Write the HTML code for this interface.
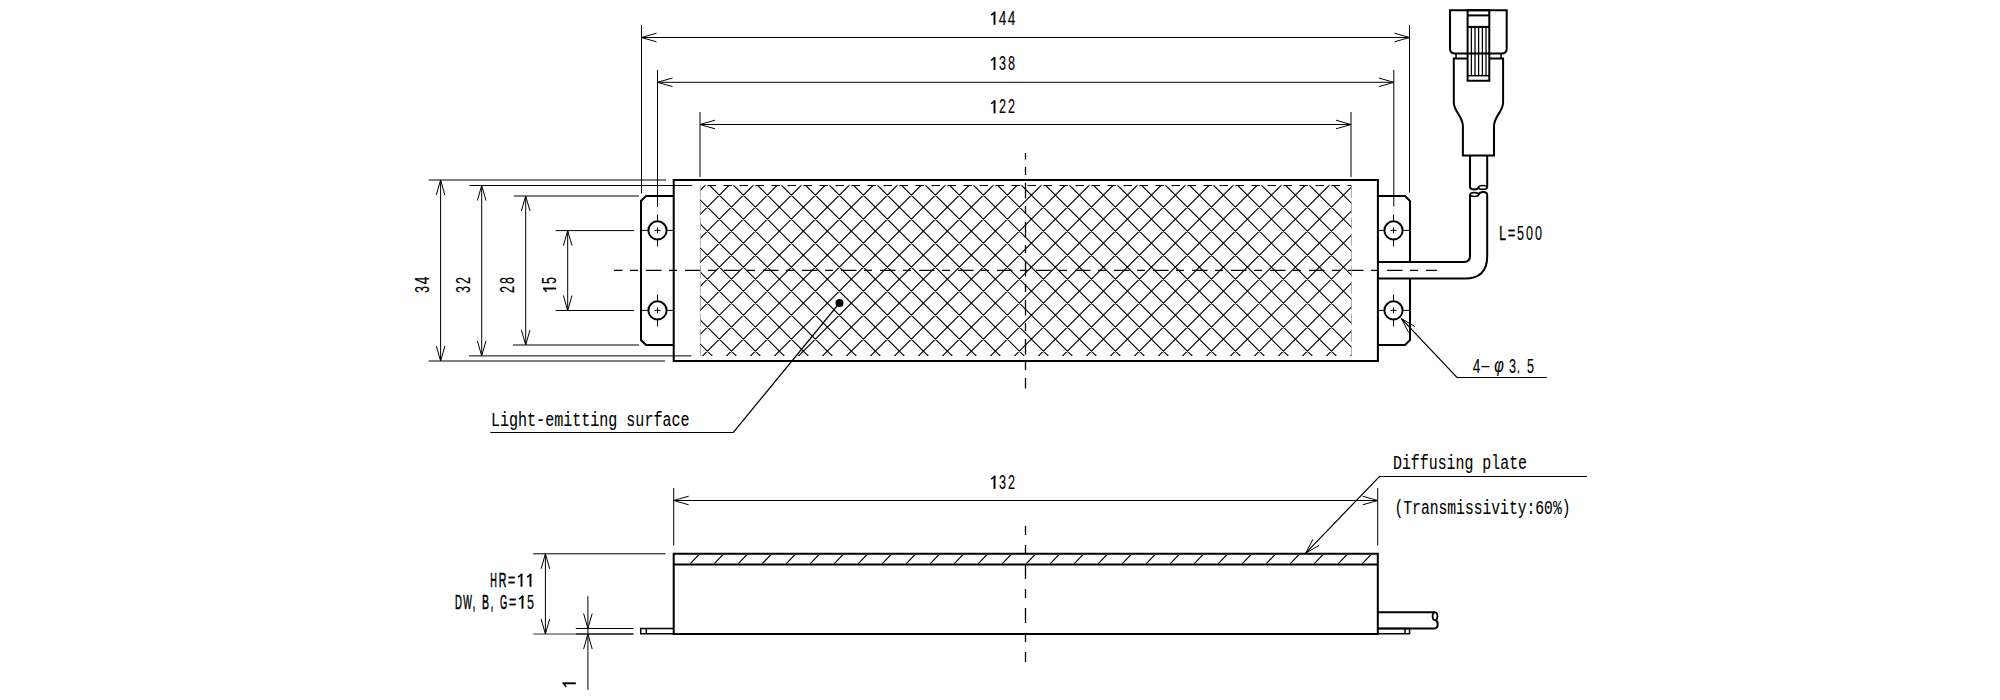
<!DOCTYPE html>
<html><head><meta charset="utf-8"><style>
html,body{margin:0;padding:0;background:#fff;width:2000px;height:700px;overflow:hidden}
svg{display:block}
</style></head><body>
<svg width="2000" height="700" viewBox="0 0 2000 700" style="font-family:'Liberation Sans',sans-serif" stroke-linecap="butt">
<rect width="2000" height="700" fill="#fff"/>
<line x1="641.50" y1="37.50" x2="1409.50" y2="37.50" stroke="#000" stroke-width="1.0" />
<path d="M656.50,33.20 L641.50,37.50 L656.50,41.80" stroke="#000" stroke-width="1" fill="none" />
<path d="M1394.50,41.80 L1409.50,37.50 L1394.50,33.20" stroke="#000" stroke-width="1" fill="none" />
<line x1="657.50" y1="82.30" x2="1393.80" y2="82.30" stroke="#000" stroke-width="1.0" />
<path d="M672.50,78.00 L657.50,82.30 L672.50,86.60" stroke="#000" stroke-width="1" fill="none" />
<path d="M1378.80,86.60 L1393.80,82.30 L1378.80,78.00" stroke="#000" stroke-width="1" fill="none" />
<line x1="700.00" y1="124.50" x2="1351.00" y2="124.50" stroke="#000" stroke-width="1.0" />
<path d="M715.00,120.20 L700.00,124.50 L715.00,128.80" stroke="#000" stroke-width="1" fill="none" />
<path d="M1336.00,128.80 L1351.00,124.50 L1336.00,120.20" stroke="#000" stroke-width="1" fill="none" />
<line x1="641.50" y1="25.00" x2="641.50" y2="193.50" stroke="#000" stroke-width="1.0" />
<line x1="1409.50" y1="25.00" x2="1409.50" y2="192.50" stroke="#000" stroke-width="1.0" />
<line x1="657.50" y1="70.00" x2="657.50" y2="207.00" stroke="#000" stroke-width="1.0" />
<line x1="1393.80" y1="70.00" x2="1393.80" y2="206.50" stroke="#000" stroke-width="1.0" />
<line x1="700.00" y1="112.00" x2="700.00" y2="177.00" stroke="#000" stroke-width="1.0" />
<line x1="1351.00" y1="112.00" x2="1351.00" y2="177.00" stroke="#000" stroke-width="1.0" />
<g transform="translate(989 24.8)" font-family="Liberation Sans" font-size="19.5" stroke="#000" stroke-width="0.6"><path d="M5.50,0V-13.05" fill="none" stroke="#000" stroke-width="1.9"/><path d="M6.10,-12.75L2.10,-9.65" fill="none" stroke="#000" stroke-width="1.5"/><text transform="translate(9.70 0) scale(0.702 1)" x="0" stroke-width="0.15" y="0">4</text><text transform="translate(18.70 0) scale(0.702 1)" x="0" stroke-width="0.15" y="0">4</text></g>
<g transform="translate(989 70)" font-family="Liberation Sans" font-size="19.5" stroke="#000" stroke-width="0.6"><path d="M5.50,0V-13.05" fill="none" stroke="#000" stroke-width="1.9"/><path d="M6.10,-12.75L2.10,-9.65" fill="none" stroke="#000" stroke-width="1.5"/><text transform="translate(10.00 0) scale(0.647 1)" x="0" stroke-width="0.15" y="0">3</text><text transform="translate(19.00 0) scale(0.647 1)" x="0" stroke-width="0.15" y="0">8</text></g>
<g transform="translate(989 113.4)" font-family="Liberation Sans" font-size="19.5" stroke="#000" stroke-width="0.6"><path d="M5.50,0V-13.05" fill="none" stroke="#000" stroke-width="1.9"/><path d="M6.10,-12.75L2.10,-9.65" fill="none" stroke="#000" stroke-width="1.5"/><text transform="translate(10.00 0) scale(0.647 1)" x="0" stroke-width="0.15" y="0">2</text><text transform="translate(19.00 0) scale(0.647 1)" x="0" stroke-width="0.15" y="0">2</text></g>
<line x1="1025.50" y1="153.00" x2="1025.50" y2="388.50" stroke="#000" stroke-width="1.3" stroke-dasharray="15.5 7.5 8 8" stroke-dashoffset="9"/>
<line x1="614.00" y1="270.40" x2="1437.00" y2="270.40" stroke="#000" stroke-width="1.3" stroke-dasharray="15.5 7.5 8 8" stroke-dashoffset="7"/>
<clipPath id="hc"><rect x="700" y="185.3" width="651.5" height="170.7"/></clipPath>
<path d="M667.20,175.30L476.50,366.00M691.20,175.30L500.50,366.00M715.20,175.30L524.50,366.00M739.20,175.30L548.50,366.00M763.20,175.30L572.50,366.00M787.20,175.30L596.50,366.00M811.20,175.30L620.50,366.00M835.20,175.30L644.50,366.00M859.20,175.30L668.50,366.00M883.20,175.30L692.50,366.00M907.20,175.30L716.50,366.00M931.20,175.30L740.50,366.00M955.20,175.30L764.50,366.00M979.20,175.30L788.50,366.00M1003.20,175.30L812.50,366.00M1027.20,175.30L836.50,366.00M1051.20,175.30L860.50,366.00M1075.20,175.30L884.50,366.00M1099.20,175.30L908.50,366.00M1123.20,175.30L932.50,366.00M1147.20,175.30L956.50,366.00M1171.20,175.30L980.50,366.00M1195.20,175.30L1004.50,366.00M1219.20,175.30L1028.50,366.00M1243.20,175.30L1052.50,366.00M1267.20,175.30L1076.50,366.00M1291.20,175.30L1100.50,366.00M1315.20,175.30L1124.50,366.00M1339.20,175.30L1148.50,366.00M1363.20,175.30L1172.50,366.00M1387.20,175.30L1196.50,366.00M1411.20,175.30L1220.50,366.00M1435.20,175.30L1244.50,366.00M1459.20,175.30L1268.50,366.00M1483.20,175.30L1292.50,366.00M1507.20,175.30L1316.50,366.00M1531.20,175.30L1340.50,366.00M1555.20,175.30L1364.50,366.00M1579.20,175.30L1388.50,366.00M483.50,175.30L674.20,366.00M507.50,175.30L698.20,366.00M531.50,175.30L722.20,366.00M555.50,175.30L746.20,366.00M579.50,175.30L770.20,366.00M603.50,175.30L794.20,366.00M627.50,175.30L818.20,366.00M651.50,175.30L842.20,366.00M675.50,175.30L866.20,366.00M699.50,175.30L890.20,366.00M723.50,175.30L914.20,366.00M747.50,175.30L938.20,366.00M771.50,175.30L962.20,366.00M795.50,175.30L986.20,366.00M819.50,175.30L1010.20,366.00M843.50,175.30L1034.20,366.00M867.50,175.30L1058.20,366.00M891.50,175.30L1082.20,366.00M915.50,175.30L1106.20,366.00M939.50,175.30L1130.20,366.00M963.50,175.30L1154.20,366.00M987.50,175.30L1178.20,366.00M1011.50,175.30L1202.20,366.00M1035.50,175.30L1226.20,366.00M1059.50,175.30L1250.20,366.00M1083.50,175.30L1274.20,366.00M1107.50,175.30L1298.20,366.00M1131.50,175.30L1322.20,366.00M1155.50,175.30L1346.20,366.00M1179.50,175.30L1370.20,366.00M1203.50,175.30L1394.20,366.00M1227.50,175.30L1418.20,366.00M1251.50,175.30L1442.20,366.00M1275.50,175.30L1466.20,366.00M1299.50,175.30L1490.20,366.00M1323.50,175.30L1514.20,366.00M1347.50,175.30L1538.20,366.00M1371.50,175.30L1562.20,366.00" stroke="#000" stroke-width="1.15" fill="none" clip-path="url(#hc)"/>
<line x1="700.00" y1="185.50" x2="1351.50" y2="185.50" stroke="#000" stroke-width="1.2" stroke-dasharray="8.5 7.5" stroke-dashoffset="8.5"/>
<line x1="700.50" y1="185.50" x2="700.50" y2="356.00" stroke="#999" stroke-width="0.8" stroke-dasharray="12 4"/>
<line x1="1351.50" y1="185.50" x2="1351.50" y2="356.00" stroke="#999" stroke-width="0.8" stroke-dasharray="12 4"/>
<path d="M673.7,180H1377.9V361H673.7Z" stroke="#000" stroke-width="2.0" fill="none" />
<path d="M673.7,196H646L641,201V340L646,345H673.7" stroke="#000" stroke-width="2.0" fill="none" />
<path d="M1377.9,196H1405L1410,201V262M1410,278.6V340L1405,345H1377.9" stroke="#000" stroke-width="2.0" fill="none" />
<circle cx="657.5" cy="230.4" r="9.1" fill="#fff" stroke="#000" stroke-width="2"/>
<line x1="654.50" y1="230.40" x2="660.50" y2="230.40" stroke="#000" stroke-width="1" />
<line x1="657.50" y1="227.40" x2="657.50" y2="233.40" stroke="#000" stroke-width="1" />
<line x1="641.20" y1="230.40" x2="647.70" y2="230.40" stroke="#000" stroke-width="1.0" />
<line x1="667.30" y1="230.40" x2="673.80" y2="230.40" stroke="#000" stroke-width="1.0" />
<line x1="657.50" y1="214.40" x2="657.50" y2="220.60" stroke="#000" stroke-width="1.0" />
<line x1="657.50" y1="240.20" x2="657.50" y2="246.40" stroke="#000" stroke-width="1.0" />
<circle cx="657.5" cy="310.4" r="9.1" fill="#fff" stroke="#000" stroke-width="2"/>
<line x1="654.50" y1="310.40" x2="660.50" y2="310.40" stroke="#000" stroke-width="1" />
<line x1="657.50" y1="307.40" x2="657.50" y2="313.40" stroke="#000" stroke-width="1" />
<line x1="641.20" y1="310.40" x2="647.70" y2="310.40" stroke="#000" stroke-width="1.0" />
<line x1="667.30" y1="310.40" x2="673.80" y2="310.40" stroke="#000" stroke-width="1.0" />
<line x1="657.50" y1="294.40" x2="657.50" y2="300.60" stroke="#000" stroke-width="1.0" />
<line x1="657.50" y1="320.20" x2="657.50" y2="326.40" stroke="#000" stroke-width="1.0" />
<circle cx="1393.5" cy="230.4" r="9.1" fill="#fff" stroke="#000" stroke-width="2"/>
<line x1="1390.50" y1="230.40" x2="1396.50" y2="230.40" stroke="#000" stroke-width="1" />
<line x1="1393.50" y1="227.40" x2="1393.50" y2="233.40" stroke="#000" stroke-width="1" />
<line x1="1377.20" y1="230.40" x2="1383.70" y2="230.40" stroke="#000" stroke-width="1.0" />
<line x1="1403.30" y1="230.40" x2="1409.80" y2="230.40" stroke="#000" stroke-width="1.0" />
<line x1="1393.50" y1="214.40" x2="1393.50" y2="220.60" stroke="#000" stroke-width="1.0" />
<line x1="1393.50" y1="240.20" x2="1393.50" y2="246.40" stroke="#000" stroke-width="1.0" />
<circle cx="1393.5" cy="310.4" r="9.1" fill="#fff" stroke="#000" stroke-width="2"/>
<line x1="1390.50" y1="310.40" x2="1396.50" y2="310.40" stroke="#000" stroke-width="1" />
<line x1="1393.50" y1="307.40" x2="1393.50" y2="313.40" stroke="#000" stroke-width="1" />
<line x1="1377.20" y1="310.40" x2="1383.70" y2="310.40" stroke="#000" stroke-width="1.0" />
<line x1="1403.30" y1="310.40" x2="1409.80" y2="310.40" stroke="#000" stroke-width="1.0" />
<line x1="1393.50" y1="294.40" x2="1393.50" y2="300.60" stroke="#000" stroke-width="1.0" />
<line x1="1393.50" y1="320.20" x2="1393.50" y2="326.40" stroke="#000" stroke-width="1.0" />
<line x1="428.60" y1="180.00" x2="666.00" y2="180.00" stroke="#000" stroke-width="1.0" />
<line x1="469.40" y1="185.50" x2="692.00" y2="185.50" stroke="#000" stroke-width="1.0" />
<line x1="513.70" y1="196.00" x2="639.00" y2="196.00" stroke="#000" stroke-width="1.0" />
<line x1="555.70" y1="230.60" x2="634.00" y2="230.60" stroke="#000" stroke-width="1.0" />
<line x1="555.70" y1="310.50" x2="634.00" y2="310.50" stroke="#000" stroke-width="1.0" />
<line x1="513.00" y1="345.00" x2="639.00" y2="345.00" stroke="#000" stroke-width="1.0" />
<line x1="469.00" y1="355.90" x2="691.40" y2="355.90" stroke="#000" stroke-width="1.0" />
<line x1="428.60" y1="361.00" x2="665.10" y2="361.00" stroke="#000" stroke-width="1.0" />
<line x1="440.60" y1="180.00" x2="440.60" y2="361.00" stroke="#000" stroke-width="1.0" />
<path d="M444.90,195.00 L440.60,180.00 L436.30,195.00" stroke="#000" stroke-width="1" fill="none" />
<path d="M436.30,346.00 L440.60,361.00 L444.90,346.00" stroke="#000" stroke-width="1" fill="none" />
<g transform="translate(429 294) rotate(-90)" font-family="Liberation Sans" font-size="19.5" stroke="#000" stroke-width="0.6"><text transform="translate(1.00 0) scale(0.647 1)" x="0" stroke-width="0.15" y="0">3</text><text transform="translate(9.70 0) scale(0.702 1)" x="0" stroke-width="0.15" y="0">4</text></g>
<line x1="481.70" y1="185.50" x2="481.70" y2="355.90" stroke="#000" stroke-width="1.0" />
<path d="M486.00,200.50 L481.70,185.50 L477.40,200.50" stroke="#000" stroke-width="1" fill="none" />
<path d="M477.40,340.90 L481.70,355.90 L486.00,340.90" stroke="#000" stroke-width="1" fill="none" />
<g transform="translate(469.8 294) rotate(-90)" font-family="Liberation Sans" font-size="19.5" stroke="#000" stroke-width="0.6"><text transform="translate(1.00 0) scale(0.647 1)" x="0" stroke-width="0.15" y="0">3</text><text transform="translate(10.00 0) scale(0.647 1)" x="0" stroke-width="0.15" y="0">2</text></g>
<line x1="525.70" y1="196.00" x2="525.70" y2="345.00" stroke="#000" stroke-width="1.0" />
<path d="M530.00,211.00 L525.70,196.00 L521.40,211.00" stroke="#000" stroke-width="1" fill="none" />
<path d="M521.40,330.00 L525.70,345.00 L530.00,330.00" stroke="#000" stroke-width="1" fill="none" />
<g transform="translate(514.2 294) rotate(-90)" font-family="Liberation Sans" font-size="19.5" stroke="#000" stroke-width="0.6"><text transform="translate(1.00 0) scale(0.647 1)" x="0" stroke-width="0.15" y="0">2</text><text transform="translate(10.00 0) scale(0.647 1)" x="0" stroke-width="0.15" y="0">8</text></g>
<line x1="567.70" y1="230.60" x2="567.70" y2="310.50" stroke="#000" stroke-width="1.0" />
<path d="M572.00,245.60 L567.70,230.60 L563.40,245.60" stroke="#000" stroke-width="1" fill="none" />
<path d="M563.40,295.50 L567.70,310.50 L572.00,295.50" stroke="#000" stroke-width="1" fill="none" />
<g transform="translate(556.2 294) rotate(-90)" font-family="Liberation Sans" font-size="19.5" stroke="#000" stroke-width="0.6"><path d="M5.50,0V-13.05" fill="none" stroke="#000" stroke-width="1.9"/><path d="M6.10,-12.75L2.10,-9.65" fill="none" stroke="#000" stroke-width="1.5"/><text transform="translate(10.00 0) scale(0.647 1)" x="0" stroke-width="0.15" y="0">5</text></g>
<path d="M1450,10.3H1506.7V48.6Q1506.7,53.6 1501.7,53.6H1455Q1450,53.6 1450,48.6Z" stroke="#000" stroke-width="2.0" fill="none" />
<path d="M1467.6,10.3H1489.3V80.7H1467.6Z" stroke="#000" stroke-width="2.0" fill="none" />
<line x1="1467.60" y1="15.40" x2="1489.30" y2="15.40" stroke="#000" stroke-width="2.0" />
<line x1="1467.60" y1="26.90" x2="1489.30" y2="26.90" stroke="#000" stroke-width="2.0" />
<line x1="1467.60" y1="75.70" x2="1489.30" y2="75.70" stroke="#000" stroke-width="1.5" />
<line x1="1471.40" y1="26.90" x2="1471.40" y2="75.70" stroke="#000" stroke-width="1.3" />
<line x1="1475.00" y1="26.90" x2="1475.00" y2="75.70" stroke="#000" stroke-width="1.3" />
<line x1="1478.60" y1="26.90" x2="1478.60" y2="75.70" stroke="#000" stroke-width="1.3" />
<line x1="1482.40" y1="26.90" x2="1482.40" y2="75.70" stroke="#000" stroke-width="1.3" />
<line x1="1486.00" y1="26.90" x2="1486.00" y2="75.70" stroke="#000" stroke-width="1.3" />
<path d="M1456,53.6V58.6M1501,53.6V58.6" stroke="#000" stroke-width="1.5" fill="none" />
<path d="M1467.6,58.6H1453.8V102.3C1453.8,112 1462.9,116 1462.9,126.3V155.4H1494V126.3C1494,116 1503.1,112 1503.1,102.3V58.6H1489.3" stroke="#000" stroke-width="2.0" fill="none" />
<path d="M1470,155.4V186.8C1470,190.2 1477.2,190.2 1478.6,187.4M1487.2,155.4V187.4" stroke="#000" stroke-width="2.0" fill="none" />
<ellipse cx="1482.8" cy="187.4" rx="4.2" ry="1.9" fill="none" stroke="#000" stroke-width="1.7"/>
<ellipse cx="1474.4" cy="194.6" rx="4.2" ry="1.9" fill="none" stroke="#000" stroke-width="1.7"/>
<path d="M1478.6,194.6C1480,191.2 1487.2,191.2 1487.2,195" stroke="#000" stroke-width="2.0" fill="none" />
<path d="M1470,194.6V256Q1470,262 1464,262H1377.9" stroke="#000" stroke-width="2.0" fill="none" />
<path d="M1487.2,195V256Q1487.2,278.6 1465,278.6H1377.9" stroke="#000" stroke-width="2.0" fill="none" />
<g transform="translate(1498 239.6)" font-family="Liberation Sans" font-size="19.5" stroke="#000" stroke-width="0.6"><text transform="translate(1.20 0) scale(0.610 1)" x="0" y="0">L</text><text transform="translate(9.70 0) scale(0.666 1)" x="0" stroke-width="0.1" y="0">=</text><text transform="translate(19.00 0) scale(0.647 1)" x="0" stroke-width="0.15" y="0">5</text><text transform="translate(28.00 0) scale(0.647 1)" x="0" stroke-width="0.15" y="0">0</text><text transform="translate(37.00 0) scale(0.647 1)" x="0" stroke-width="0.15" y="0">0</text></g>
<path d="M1401.4,318.6L1457,377.5H1546.9" stroke="#000" stroke-width="1.2" fill="none" />
<path d="M1414.83,326.54 L1401.40,318.60 L1408.58,332.45" stroke="#000" stroke-width="1" fill="none" />
<g transform="translate(1472 372.9)" font-family="Liberation Sans" font-size="19.5" stroke="#000" stroke-width="0.6"><text transform="translate(0.70 0) scale(0.702 1)" x="0" stroke-width="0.15" y="0">4</text><path d="M9.50,-6.3H17.50" stroke="#000" stroke-width="1.3"/><text transform="translate(22.25 0) scale(0.750 1)" x="0" font-style="italic" stroke-width="0.2" y="-1.2">φ</text><text transform="translate(37.00 0) scale(0.647 1)" x="0" stroke-width="0.15" y="0">3</text><text transform="translate(45.50 0) scale(0.366 1)" x="0" stroke-width="0.9" y="0">.</text><text transform="translate(55.00 0) scale(0.647 1)" x="0" stroke-width="0.15" y="0">5</text></g>
<circle cx="839.5" cy="303" r="4" fill="#000"/>
<path d="M839.5,303L733.3,432.5H490.3" stroke="#000" stroke-width="1.2" fill="none" />
<text x="491" y="425.8" font-family="Liberation Mono" font-size="20" text-anchor="start" textLength="198.5" lengthAdjust="spacingAndGlyphs" stroke="#000" stroke-width="0.12">Light-emitting surface</text>
<path d="M673.7,553.8H1377.8V634H673.7Z" stroke="#000" stroke-width="2.0" fill="none" />
<line x1="673.70" y1="564.50" x2="1377.80" y2="564.50" stroke="#000" stroke-width="2.0" />
<clipPath id="pc"><rect x="674.7" y="554.8" width="702.1" height="8.7"/></clipPath>
<path d="M665.50,564.5L675.70,553.8M689.50,564.5L699.70,553.8M713.50,564.5L723.70,553.8M737.50,564.5L747.70,553.8M761.50,564.5L771.70,553.8M785.50,564.5L795.70,553.8M809.50,564.5L819.70,553.8M833.50,564.5L843.70,553.8M857.50,564.5L867.70,553.8M881.50,564.5L891.70,553.8M905.50,564.5L915.70,553.8M929.50,564.5L939.70,553.8M953.50,564.5L963.70,553.8M977.50,564.5L987.70,553.8M1001.50,564.5L1011.70,553.8M1025.50,564.5L1035.70,553.8M1049.50,564.5L1059.70,553.8M1073.50,564.5L1083.70,553.8M1097.50,564.5L1107.70,553.8M1121.50,564.5L1131.70,553.8M1145.50,564.5L1155.70,553.8M1169.50,564.5L1179.70,553.8M1193.50,564.5L1203.70,553.8M1217.50,564.5L1227.70,553.8M1241.50,564.5L1251.70,553.8M1265.50,564.5L1275.70,553.8M1289.50,564.5L1299.70,553.8M1313.50,564.5L1323.70,553.8M1337.50,564.5L1347.70,553.8M1361.50,564.5L1371.70,553.8M1385.50,564.5L1395.70,553.8" stroke="#000" stroke-width="1.2" fill="none" clip-path="url(#pc)"/>
<path d="M673.7,628.5H640.7V633.8H673.7M646.3,628.5V633.8" stroke="#000" stroke-width="1.5" fill="none" />
<path d="M1377.8,628.5H1409.6V633.8H1377.8M1405,628.5V633.8" stroke="#000" stroke-width="1.5" fill="none" />
<path d="M1377.8,612.2H1435M1435.5,620C1438.6,621.5 1438.6,628.4 1434.5,628.4H1377.8" stroke="#000" stroke-width="2.0" fill="none" />
<ellipse cx="1435" cy="616.3" rx="2.4" ry="3.9" fill="none" stroke="#000" stroke-width="1.8"/>
<line x1="673.70" y1="500.50" x2="1377.70" y2="500.50" stroke="#000" stroke-width="1.0" />
<path d="M688.70,496.20 L673.70,500.50 L688.70,504.80" stroke="#000" stroke-width="1" fill="none" />
<path d="M1362.70,504.80 L1377.70,500.50 L1362.70,496.20" stroke="#000" stroke-width="1" fill="none" />
<line x1="673.70" y1="488.00" x2="673.70" y2="545.60" stroke="#000" stroke-width="1.0" />
<line x1="1377.70" y1="488.00" x2="1377.70" y2="545.60" stroke="#000" stroke-width="1.0" />
<g transform="translate(989 488.9)" font-family="Liberation Sans" font-size="19.5" stroke="#000" stroke-width="0.6"><path d="M5.50,0V-13.05" fill="none" stroke="#000" stroke-width="1.9"/><path d="M6.10,-12.75L2.10,-9.65" fill="none" stroke="#000" stroke-width="1.5"/><text transform="translate(10.00 0) scale(0.647 1)" x="0" stroke-width="0.15" y="0">3</text><text transform="translate(19.00 0) scale(0.647 1)" x="0" stroke-width="0.15" y="0">2</text></g>
<line x1="1025.50" y1="526.00" x2="1025.50" y2="662.00" stroke="#000" stroke-width="1.3" stroke-dasharray="15 10 9 10" stroke-dashoffset="6"/>
<line x1="533.20" y1="553.80" x2="665.60" y2="553.80" stroke="#000" stroke-width="1.0" />
<line x1="533.20" y1="634.00" x2="576.00" y2="634.00" stroke="#333" stroke-width="1.0" />
<line x1="576.00" y1="634.00" x2="633.50" y2="634.00" stroke="#111" stroke-width="1.6" />
<line x1="575.80" y1="628.50" x2="633.50" y2="628.50" stroke="#000" stroke-width="1.0" />
<line x1="545.40" y1="553.80" x2="545.40" y2="634.00" stroke="#000" stroke-width="1.0" />
<path d="M549.70,568.80 L545.40,553.80 L541.10,568.80" stroke="#000" stroke-width="1" fill="none" />
<path d="M541.10,619.00 L545.40,634.00 L549.70,619.00" stroke="#000" stroke-width="1" fill="none" />
<line x1="587.90" y1="596.30" x2="587.90" y2="689.80" stroke="#000" stroke-width="1.0" />
<path d="M583.60,613.50 L587.90,628.50 L592.20,613.50" stroke="#000" stroke-width="1" fill="none" />
<path d="M592.20,649.00 L587.90,634.00 L583.60,649.00" stroke="#000" stroke-width="1" fill="none" />
<g transform="translate(489 586.8)" font-family="Liberation Sans" font-size="19.5" stroke="#000" stroke-width="0.6"><text transform="translate(1.20 0) scale(0.470 1)" x="0" y="0">H</text><text transform="translate(9.70 0) scale(0.541 1)" x="0" y="0">R</text><text transform="translate(18.70 0) scale(0.666 1)" x="0" stroke-width="0.1" y="0">=</text><path d="M32.50,0V-13.05" fill="none" stroke="#000" stroke-width="1.9"/><path d="M33.10,-12.75L29.10,-9.65" fill="none" stroke="#000" stroke-width="1.5"/><path d="M41.50,0V-13.05" fill="none" stroke="#000" stroke-width="1.9"/><path d="M42.10,-12.75L38.10,-9.65" fill="none" stroke="#000" stroke-width="1.5"/></g>
<g transform="translate(454 608.7)" font-family="Liberation Sans" font-size="19.5" stroke="#000" stroke-width="0.6"><text transform="translate(1.05 0) scale(0.491 1)" x="0" y="0">D</text><text transform="translate(9.20 0) scale(0.467 1)" x="0" y="0">W</text><text transform="translate(19.00 0) scale(0.366 1)" x="0" stroke-width="0.9" y="0">,</text><text transform="translate(28.00 0) scale(0.540 1)" x="0" y="0">B</text><text transform="translate(37.00 0) scale(0.366 1)" x="0" stroke-width="0.9" y="0">,</text><text transform="translate(45.90 0) scale(0.473 1)" x="0" y="0">G</text><text transform="translate(54.70 0) scale(0.666 1)" x="0" stroke-width="0.1" y="0">=</text><path d="M68.50,0V-13.05" fill="none" stroke="#000" stroke-width="1.9"/><path d="M69.10,-12.75L65.10,-9.65" fill="none" stroke="#000" stroke-width="1.5"/><text transform="translate(73.00 0) scale(0.647 1)" x="0" stroke-width="0.15" y="0">5</text></g>
<g transform="translate(575.8 688.8) rotate(-90)" font-family="Liberation Sans" font-size="19.5" stroke="#000" stroke-width="0.6"><path d="M5.50,0V-13.05" fill="none" stroke="#000" stroke-width="1.9"/><path d="M6.10,-12.75L2.10,-9.65" fill="none" stroke="#000" stroke-width="1.5"/></g>
<path d="M1305.7,553.2L1379.4,476.5H1587" stroke="#000" stroke-width="1.2" fill="none" />
<path d="M1312.95,539.38 L1305.70,553.20 L1319.17,545.32" stroke="#000" stroke-width="1" fill="none" />
<text x="1393" y="469.1" font-family="Liberation Mono" font-size="20" text-anchor="start" textLength="134" lengthAdjust="spacingAndGlyphs" stroke="#000" stroke-width="0.12">Diffusing plate</text>
<text x="1394.5" y="513.8" font-family="Liberation Mono" font-size="20" text-anchor="start" textLength="176" lengthAdjust="spacingAndGlyphs" stroke="#000" stroke-width="0.12">(Transmissivity:60%)</text>
</svg></body></html>
